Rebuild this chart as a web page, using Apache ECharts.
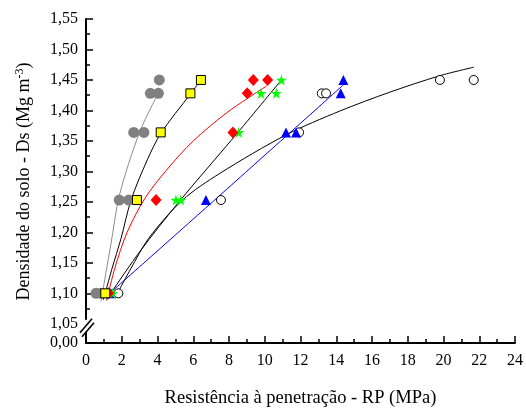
<!DOCTYPE html>
<html><head><meta charset="utf-8">
<script src="https://cdn.jsdelivr.net/npm/echarts@6/dist/echarts.min.js"></script>
<style>html,body{margin:0;padding:0;background:#fff}#c{width:526px;height:409px}</style>
</head><body><div id="c"></div>
<script>
// ---- data ----
const xTicks = [0,2,4,6,8,10,12,14,16,18,20,22,24];
const yTicks = [1.05,1.10,1.15,1.20,1.25,1.30,1.35,1.40,1.45,1.50,1.55];

const grayX   = [0.56, 0.84, 1.86, 2.39, 2.67, 3.24, 3.60, 4.05, 4.10];
const grayY   = [1.10, 1.10, 1.253, 1.253, 1.364, 1.364, 1.428, 1.428, 1.45];
const yellowX = [1.08, 2.85, 4.18, 5.84, 6.43];
const yellowY = [1.10, 1.253, 1.364, 1.428, 1.45];
const redX    = [1.27, 3.92, 8.22, 9.02, 9.36, 10.16];
const redY    = [1.10, 1.253, 1.364, 1.428, 1.45, 1.45];
const greenX  = [1.49, 5.03, 5.31, 8.54, 9.79, 10.65, 10.93];
const greenY  = [1.10, 1.253, 1.253, 1.364, 1.428, 1.428, 1.45];
const blueX   = [1.40, 6.71, 11.19, 11.75, 14.25, 14.40];
const blueY   = [1.10, 1.253, 1.364, 1.364, 1.428, 1.45];
const openX   = [1.81, 7.55, 11.92, 13.19, 13.43, 19.80, 21.69];
const openY   = [1.10, 1.253, 1.364, 1.428, 1.428, 1.45, 1.45];

// fitted curves, points
const grayFitX   = [0.84, 1.39, 1.88, 2.98, 3.97];
const grayFitY   = [1.087, 1.18, 1.262, 1.363, 1.424];
const yellowFitX = [0.97, 1.45, 1.96, 2.52, 3.43, 4.2, 5.84, 6.43];
const yellowFitY = [1.089, 1.14, 1.19, 1.253, 1.319, 1.363, 1.427, 1.45];
const redFitX    = [1.16, 1.6, 2.3, 3.3, 4.5, 6.0, 8.0, 10.1];
const redFitY    = [1.088, 1.14, 1.20, 1.256, 1.302, 1.35, 1.399, 1.44];
const greenFitX  = [1.15, 3.0, 5.2, 8.5, 10.93];
const greenFitY  = [1.09, 1.168, 1.25, 1.364, 1.45];
const blueFitX   = [1.21, 7.5, 14.4];
const blueFitY   = [1.097, 1.261, 1.442];
const openFitX   = [1.85, 2.5, 3.5, 5.4, 7.5, 11.2, 14.2, 17.0, 19.8, 21.7];
const openFitY   = [1.105, 1.14, 1.19, 1.253, 1.297, 1.36, 1.399, 1.430, 1.457, 1.471];

const xTitle = 'Resistência à penetração - RP (MPa)';
const yTitleMain = 'Densidade do solo - Ds (Mg m';
const yTitleSup = '-3';

// ---- chart ----
const FONT = 'Liberation Serif';
const zip = (xs, ys) => xs.map((x, i) => [x, ys[i]]);
const fmt = v => v.toFixed(2).replace('.', ',');
const STAR = 'path://M50,0 L61,35 L98,35 L68,57 L79,91 L50,70 L21,91 L32,57 L2,35 L39,35 Z';

const L = 86, R = 11, T = 19, BRK = 323.8, BOT = 344;
const chart = echarts.init(document.getElementById('c'), null, {renderer: 'canvas'});

function fitLine(xs, ys, color) {
  return {type: 'line', xAxisIndex: 0, yAxisIndex: 0, data: zip(xs, ys), smooth: 0.3,
    showSymbol: false, silent: true, z: 2,
    lineStyle: {color: color, width: 1}};
}
function pts(xs, ys, symbol, size, color, border) {
  return {type: 'scatter', xAxisIndex: 0, yAxisIndex: 0, data: zip(xs, ys), symbol: symbol,
    symbolSize: size, z: 5,
    itemStyle: {color: color, borderColor: border || color, borderWidth: border ? 1 : 0, opacity: 1}};
}

const axisLineStyle = {color: '#000', width: 2};
const option = {
  animation: false,
  backgroundColor: '#fff',
  grid: [
    {left: L, right: R, top: T, height: BRK - T},
    {left: L, right: R, top: BRK, height: BOT - BRK},
    {left: L, right: R, top: T, height: BOT - T}
  ],
  xAxis: [
    {gridIndex: 0, type: 'value', min: 0, max: 24, interval: 2, show: false},
    {gridIndex: 1, type: 'value', min: 0, max: 24, interval: 2,
      axisLine: {show: true, onZero: false, lineStyle: axisLineStyle},
      axisTick: {show: true, inside: true, length: 7, lineStyle: {color: '#000', width: 1.5}},
      minorTick: {show: true, splitNumber: 2, length: 4, lineStyle: {color: '#000', width: 1.5}},
      splitLine: {show: false},
      axisLabel: {color: '#000', fontFamily: FONT, fontSize: 16, margin: 10,
        formatter: v => xTicks.indexOf(v) >= 0 ? String(v) : ''},
      name: xTitle, nameLocation: 'middle', nameGap: 46,
      nameTextStyle: {color: '#000', fontFamily: FONT, fontSize: 18.5}},
    {gridIndex: 2, type: 'value', min: 0, max: 24, show: false}
  ],
  yAxis: [
    {gridIndex: 0, type: 'value', min: 1.05, max: 1.55, interval: 0.05,
      axisLine: {show: true, onZero: false, lineStyle: axisLineStyle},
      axisTick: {show: true, inside: true, length: 7, lineStyle: {color: '#000', width: 1.5}},
      minorTick: {show: true, splitNumber: 2, length: 4, lineStyle: {color: '#000', width: 1.5}},
      splitLine: {show: false},
      axisLabel: {color: '#000', fontFamily: FONT, fontSize: 16, margin: 8,
        formatter: v => fmt(yTicks.reduce((a, b) => Math.abs(b - v) < Math.abs(a - v) ? b : a))}},
    {gridIndex: 1, type: 'value', min: 0, max: 1, interval: 1,
      axisLine: {show: true, onZero: false, lineStyle: axisLineStyle},
      axisTick: {show: false}, splitLine: {show: false},
      axisLabel: {color: '#000', fontFamily: FONT, fontSize: 16, margin: 8,
        formatter: v => v === 0 ? '0,00' : ''}},
    {gridIndex: 2, type: 'value', min: 0, max: 1,
      axisLine: {show: false}, axisTick: {show: false}, axisLabel: {show: false}, splitLine: {show: false},
      name: '{t|' + yTitleMain + '}{s|' + yTitleSup + '}{t|)}',
      nameLocation: 'middle', nameGap: 52,
      nameTextStyle: {color: '#000', rich: {
        t: {fontFamily: FONT, fontSize: 18, color: '#000'},
        s: {fontFamily: FONT, fontSize: 12, color: '#000', verticalAlign: 'top', padding: [0, 0, 8, 0]}
      }}}
  ],
  series: [
    fitLine(grayFitX, grayFitY, '#8c8c8c'),
    fitLine(yellowFitX, yellowFitY, '#000'),
    fitLine(redFitX, redFitY, '#ff0000'),
    fitLine(greenFitX, greenFitY, '#000'),
    fitLine(blueFitX, blueFitY, '#0000ff'),
    fitLine(openFitX, openFitY, '#000'),
    pts(grayX, grayY, 'circle', 11, '#808080'),
    pts(openX, openY, 'circle', 9, '#ffffff', '#000'),
    pts(blueX, blueY, 'triangle', 10, '#0000ff'),
    pts(greenX, greenY, STAR, 11, '#00ff00'),
    pts(redX, redY, 'diamond', [11, 12], '#ff0000'),
    pts(yellowX, yellowY, 'rect', 9, '#ffff00', '#000')
  ],
  graphic: [
    {type: 'rect', shape: {x: L - 3, y: BRK - 4, width: 11, height: 12}, style: {fill: '#fff'}, z: 100},
    {type: 'line', shape: {x1: L - 6, y1: BRK + 9, x2: L + 6, y2: BRK - 5}, style: {stroke: '#000', lineWidth: 1.6}, z: 101},
    {type: 'line', shape: {x1: L - 4, y1: BRK + 13, x2: L + 8, y2: BRK - 1}, style: {stroke: '#000', lineWidth: 1.6}, z: 101}
  ]
};
chart.setOption(option);
</script></body></html>
